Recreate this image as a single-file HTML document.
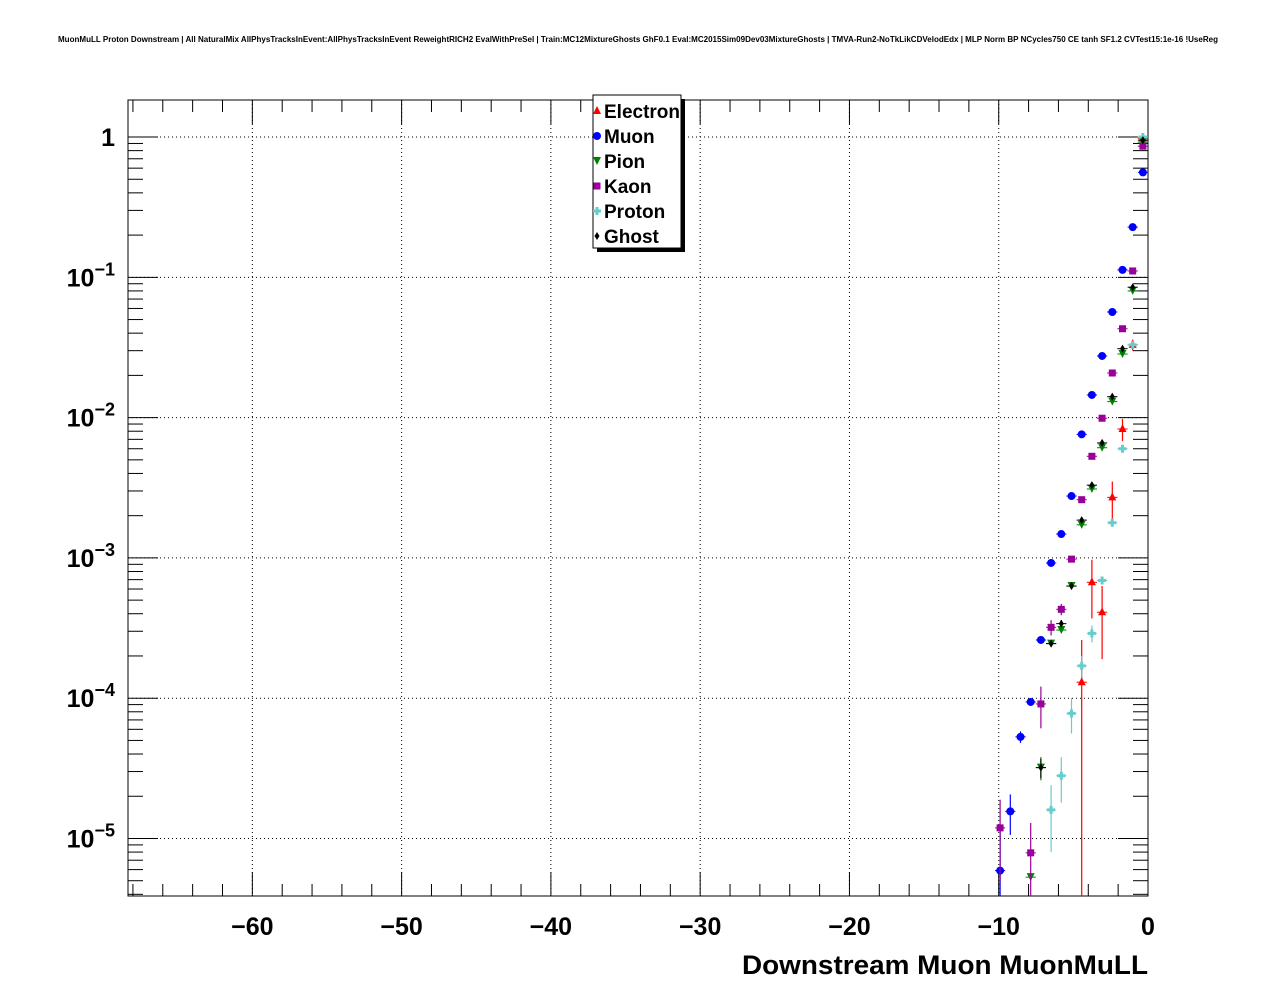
<!DOCTYPE html>
<html><head><meta charset="utf-8"><style>
body{margin:0;background:#fff;}
svg{display:block;font-family:"Liberation Sans",sans-serif;}
</style></head><body>
<svg id="c" width="1276" height="996" xmlns="http://www.w3.org/2000/svg">
<text x="638" y="42" text-anchor="middle" font-size="8" font-weight="bold" textLength="1160" lengthAdjust="spacingAndGlyphs">MuonMuLL Proton Downstream | All NaturalMix AllPhysTracksInEvent:AllPhysTracksInEvent ReweightRICH2 EvalWithPreSel | Train:MC12MixtureGhosts GhF0.1 Eval:MC2015Sim09Dev03MixtureGhosts | TMVA-Run2-NoTkLikCDVelodEdx | MLP Norm BP NCycles750 CE tanh SF1.2 CVTest15:1e-16 !UseReg</text>
<g id="grid"></g><g id="axes"></g><g id="marks"></g>
<text x="1148" y="974" text-anchor="end" font-size="27" font-weight="bold" textLength="406" lengthAdjust="spacingAndGlyphs">Downstream Muon MuonMuLL</text>
</svg>
<script>
const binWidth = 0.6833;
const xTicks = [-60,-50,-40,-30,-20,-10,0];
const xTickLabels = ["\u221260","\u221250","\u221240","\u221230","\u221220","\u221210","0"];
const yDecades = [0,-1,-2,-3,-4,-5];
const yTickLabels = ["1","10^-1","10^-2","10^-3","10^-4","10^-5"];
const seriesNames = ["Electron","Muon","Pion","Kaon","Proton","Ghost"];
const electronVals = [0.98,0.033,0.0083,0.0027,0.00041,0.00067,0.00013];
const electronErr  = [0.02,0.003,0.0015,0.0008,0.00022,0.0003,0.00013];
const muonVals = [0.56,0.228,0.113,0.0566,0.0275,0.0145,0.0076,0.00276,0.00148,0.00092,0.00026,0.000094,0.000053,0.0000156,0.0000059];
const muonErr  = [0,0,0,0,0,0,0,0,0,0,0.00001,0.000006,0.000005,0.000005,0.000006];
const pionVals = [0.92,0.08,0.0284,0.013,0.0061,0.0031,0.00172,0.00063,0.000306,0.000245,0.000032,0.0000053];
const pionErr  = [0,0,0,0,0,0,0,0,0.00001,0.00001,0.000006,0];
const kaonVals = [0.86,0.111,0.043,0.0208,0.0099,0.0053,0.0026,0.00098,0.00043,0.00032,0.000091,0.0000079,null,null,0.0000119];
const kaonErr  = [0,0,0,0,0,0,0,0,0.00004,0.00004,0.00003,0.000005,0,0,0.000007];
const protonVals = [1.0,0.033,0.006,0.00178,0.00069,0.00029,0.00017,0.000078,0.000028,0.000016];
const protonErr  = [0,0,0,0,0.00003,0.00004,0.00003,0.000022,0.00001,0.000008];
const ghostVals = [0.95,0.085,0.031,0.0141,0.0066,0.0033,0.00186,0.00063,0.00034,0.000245,0.000032];
const ghostErr  = [0,0,0,0,0,0,0,0,0.00002,0,0.000005];

const L=128,R=1148,T=100,B=896, xmin=-68.33, xmax=0, ymaxLog=0.264, yminLog=-5.41;
const X=v=>L+(v-xmin)/(xmax-xmin)*(R-L);
const Y=v=>{const l=Math.log10(v);return T+(ymaxLog-l)/(ymaxLog-yminLog)*(B-T);};
const NS="http://www.w3.org/2000/svg";
function mk(tag,attrs,parent){const e=document.createElementNS(NS,tag);for(const k in attrs)e.setAttribute(k,attrs[k]);parent.appendChild(e);return e;}
const grid=document.getElementById('grid'),axes=document.getElementById('axes'),marks=document.getElementById('marks');
xTicks.forEach(t=>{if(t===0)return;const g=mk('line',{x1:X(t),x2:X(t),y1:T,y2:B,stroke:'#000','stroke-width':1,'stroke-dasharray':'1,3'},grid);

});
yDecades.forEach(d=>{const g=mk('line',{x1:L,x2:R,y1:Y(Math.pow(10,d)),y2:Y(Math.pow(10,d)),stroke:'#000','stroke-width':1,'stroke-dasharray':'1,3'},grid);

});
const fr=mk('rect',{x:L,y:T,width:R-L,height:B-T,fill:'none',stroke:'#000','stroke-width':1},axes);


for(let v=-68;v<=0;v+=2){const major=v%10===0;const len=major?24:12;
mk('line',{x1:X(v),x2:X(v),y1:B,y2:B-len,stroke:'#000'},axes);
mk('line',{x1:X(v),x2:X(v),y1:T,y2:T+len,stroke:'#000'},axes);}
xTicks.forEach((t,i)=>{const tx=mk('text',{x:X(t),y:935,'text-anchor':'middle','font-size':25,'font-weight':'bold'},axes);tx.textContent=xTickLabels[i];

});
for(let d=-6;d<=0;d++){for(let m=1;m<10;m++){const v=m*Math.pow(10,d);const y=Y(v);if(y<T||y>B)continue;const len=m===1?30:15;
mk('line',{x1:L,x2:L+len,y1:y,y2:y,stroke:'#000'},axes);mk('line',{x1:R,x2:R-len,y1:y,y2:y,stroke:'#000'},axes);}}
yDecades.forEach((d,i)=>{const y=Y(Math.pow(10,d))+9;const tx=mk('text',{x:115,y:y,'text-anchor':'end','font-size':25,'font-weight':'bold'},axes);


if(d===0){tx.textContent=yTickLabels[i];}else{const p=yTickLabels[i].split('^');tx.textContent=p[0];const s=mk('tspan',{dy:-11,'font-size':18},tx);s.textContent=p[1].replace('-','\u2212');}});
function marker(kind,x,y,col,parent){
 if(kind==='tri')return mk('polygon',{points:`${x},${y-5} ${x-4},${y+3} ${x+4},${y+3}`,fill:col},parent);
 if(kind==='circ')return mk('circle',{cx:x,cy:y,r:4,fill:col},parent);
 if(kind==='tdown')return mk('polygon',{points:`${x},${y+4} ${x-4},${y-4} ${x+4},${y-4}`,fill:col},parent);
 if(kind==='sq')return mk('rect',{x:x-3.5,y:y-3.5,width:7,height:7,fill:col},parent);
 if(kind==='cross')return mk('path',{d:`M${x-4},${y-1.5}h2.5v-2.5h3v2.5h2.5v3h-2.5v2.5h-3v-2.5h-2.5z`,fill:col},parent);
 return mk('polygon',{points:`${x},${y-4} ${x+2.5},${y} ${x},${y+4} ${x-2.5},${y}`,fill:col},parent);
}
const series=[[electronVals,electronErr,'#ff0000','tri'],[muonVals,muonErr,'#0000ff','circ'],[pionVals,pionErr,'#008000','tdown'],[kaonVals,kaonErr,'#990099','sq'],[protonVals,protonErr,'#66cccc','cross'],[ghostVals,ghostErr,'#000000','diam']];
series.forEach((s,si)=>{const [vals,errs,col,kind]=s;const g=mk('g',{},marks);


vals.forEach((v,i)=>{if(v==null)return;const c=-(i+0.5)*binWidth;const x=X(c),y=Y(v);
 const x0=X(c-binWidth/2),x1=X(c+binWidth/2);
 mk('line',{x1:x0,x2:x1,y1:y,y2:y,stroke:col,'stroke-width':1},g);
 const e=errs[i]||0; if(e>0){const yu=Y(v+e);const yl=(v-e)>0?Math.min(Y(v-e),B):B;mk('line',{x1:x,x2:x,y1:yu,y2:yl,stroke:col,'stroke-width':1.2},g);}
 const m=marker(kind,x,y,col,g);
 
 
});});
const lg=mk('g',{},marks);


mk('rect',{x:597,y:99,width:88,height:153,fill:'#000'},lg);
mk('rect',{x:593,y:95,width:88,height:153,fill:'#fff',stroke:'#000'},lg);
series.forEach((s,si)=>{const y=111+si*25;const e=mk('g',{},lg);


marker(s[3],597,y,s[2],e);const t=mk('text',{x:604,y:y+7,'font-size':19,'font-weight':'bold'},e);t.textContent=seriesNames[si];});
</script>
</body></html>
